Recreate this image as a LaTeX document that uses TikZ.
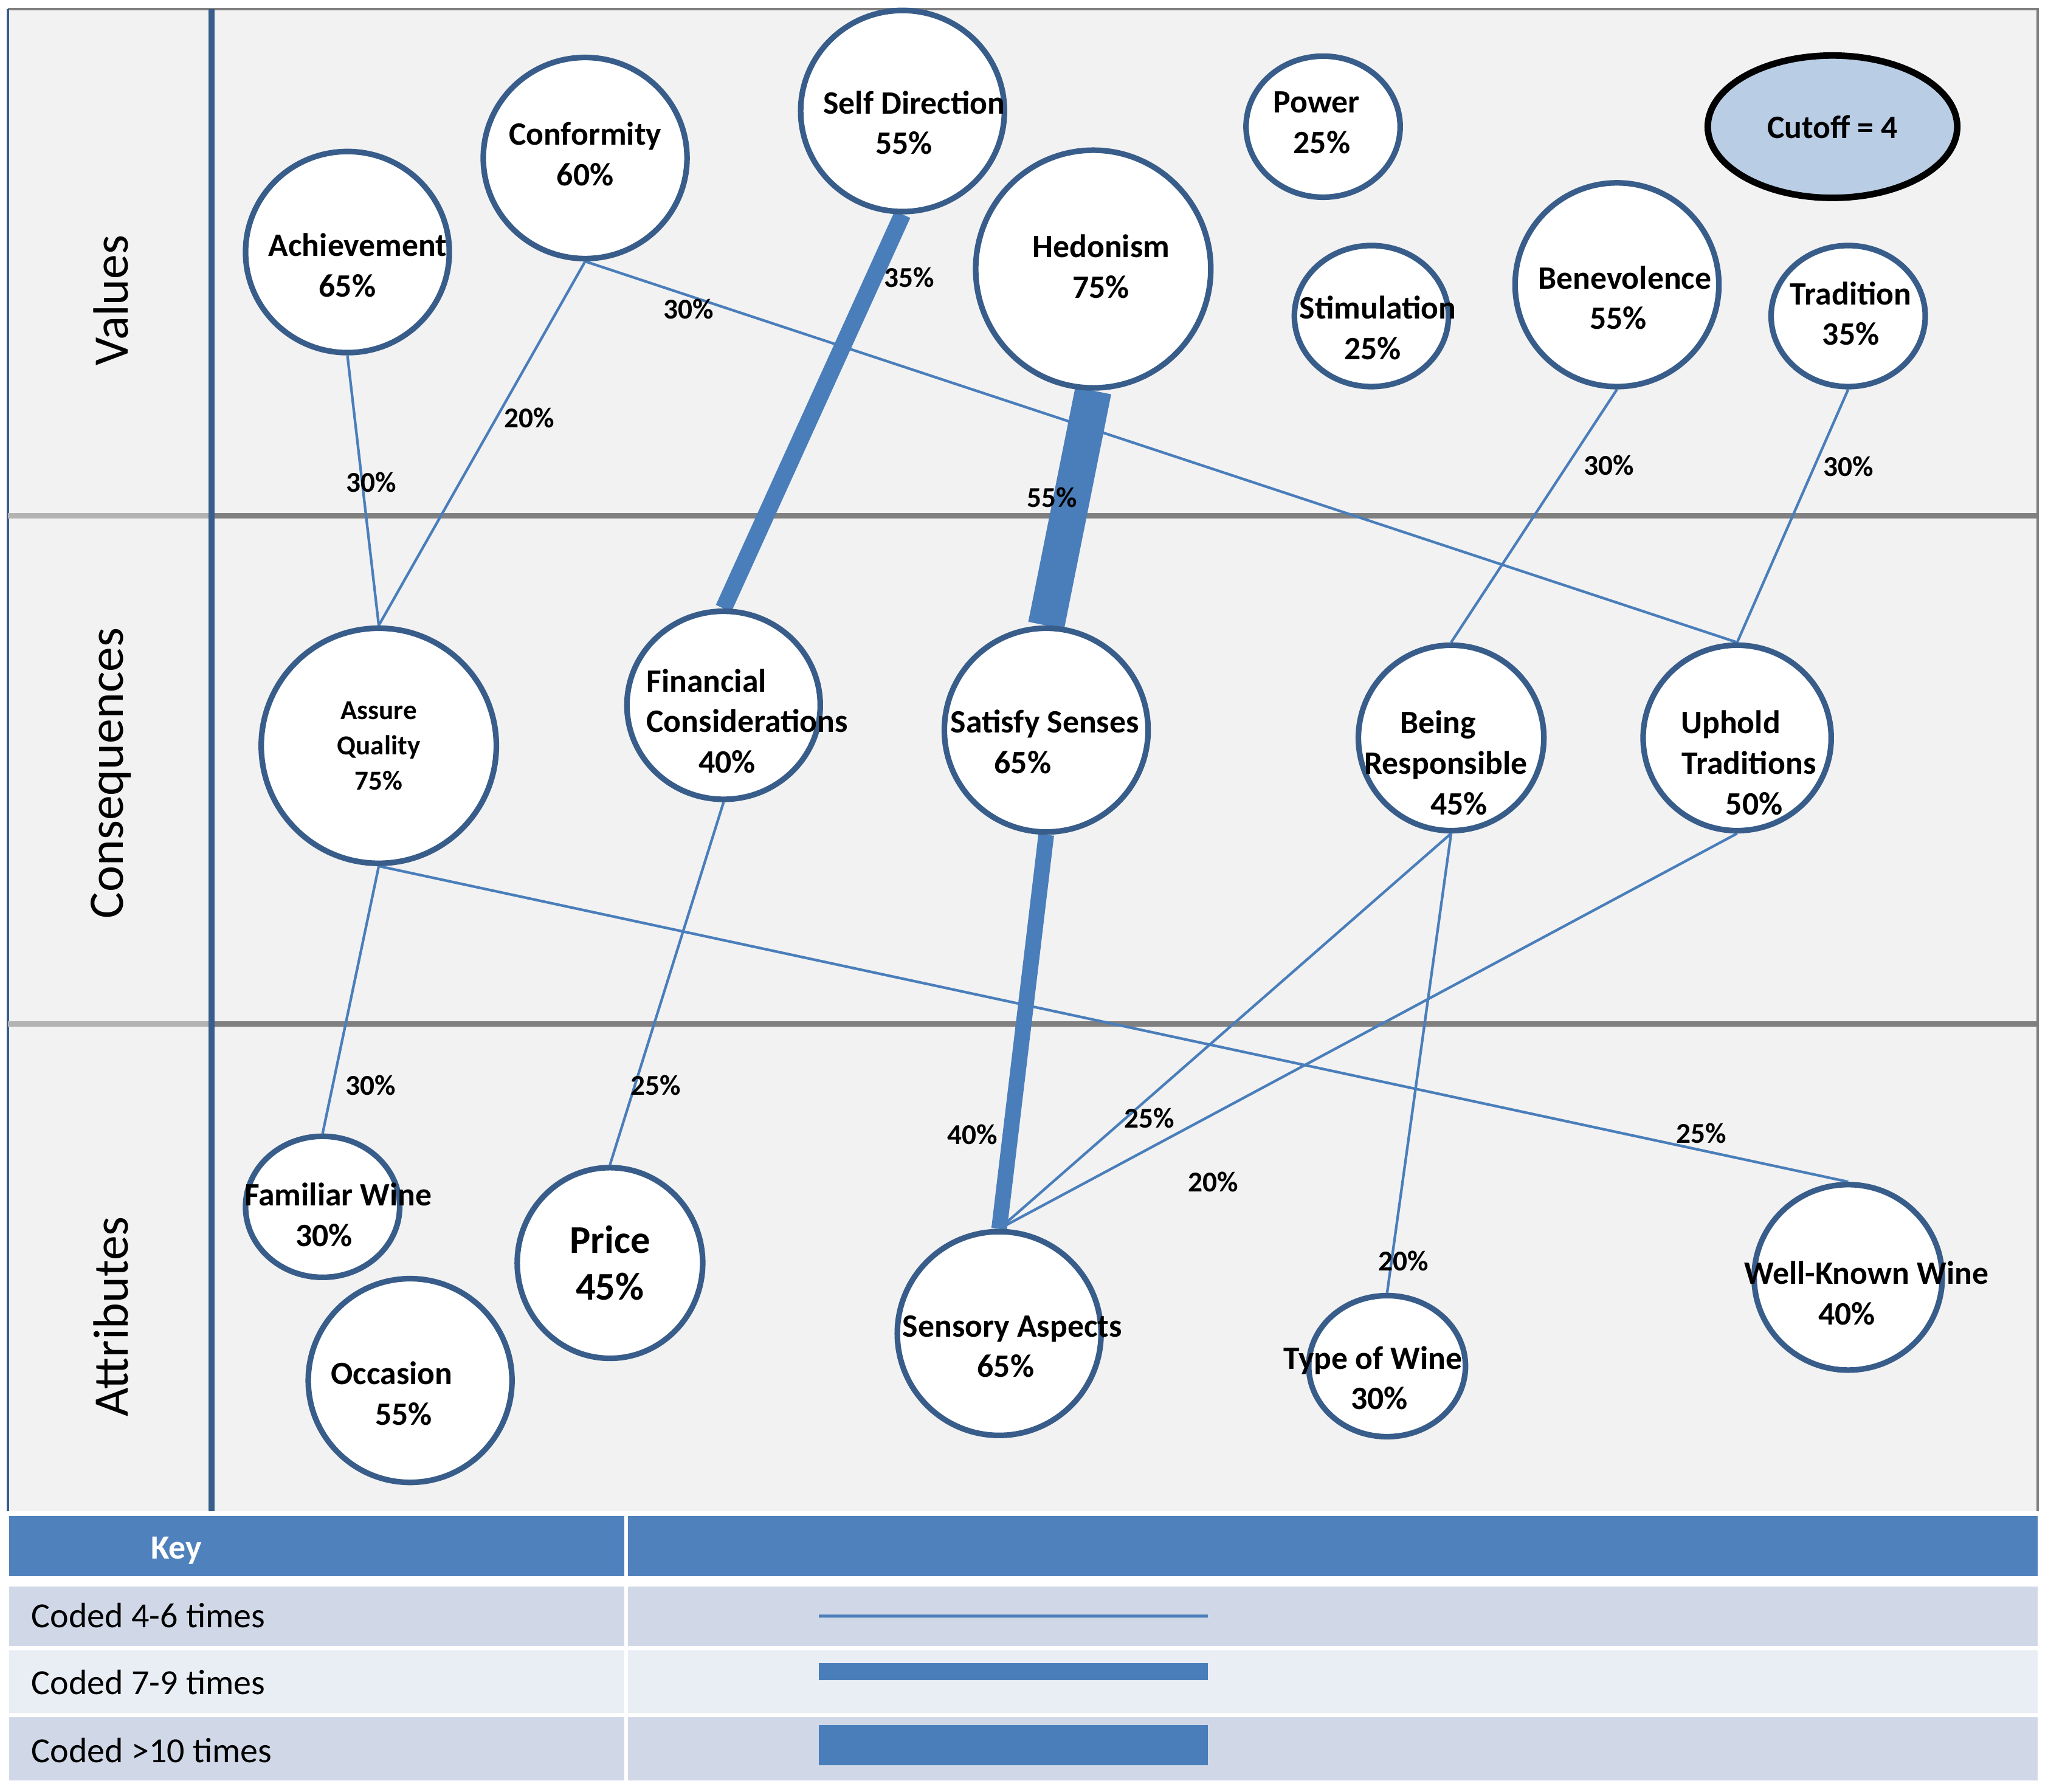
\documentclass[tikz,border=0pt]{standalone}
\usepackage{fontspec}
\setmainfont{Carlito}
\usetikzlibrary{shapes.geometric}

\definecolor{panelgray}{HTML}{F2F2F2}
\definecolor{bubline}{HTML}{385D8A}
\definecolor{linkblue}{HTML}{4A7EBB}
\definecolor{headblue}{HTML}{4F81BD}
\definecolor{rowdark}{HTML}{D0D8E8}
\definecolor{rowlight}{HTML}{E9EDF4}
\definecolor{cutfill}{HTML}{B9CDE5}
\definecolor{rulegray}{HTML}{808080}

\pgfdeclarelayer{background}
\pgfdeclarelayer{edges}
\pgfsetlayers{background,edges,main}

\tikzset{
	bub/.style={ellipse, draw=bubline, line width=4.3pt, fill=white, inner sep=0pt},
	bubtxt/.style={font=\bfseries\fontsize{25}{31}\selectfont, align=center, inner sep=0pt},
	pct/.style={font=\bfseries\fontsize{22}{26}\selectfont, inner sep=0pt},
	lowlink/.style={draw=linkblue, line width=2pt},
	midlink/.style={draw=linkblue, line width=13pt},
	toplink/.style={draw=linkblue, line width=28pt},
	axislabel/.style={rotate=90, font=\fontsize{38}{44}\selectfont},
	keytxt/.style={font=\fontsize{27}{32}\selectfont, anchor=west, inner sep=0pt},
}

\begin{document}
\begin{tikzpicture}[x=1pt, y=-1pt]
			%%%%% START %%%%%
			\useasboundingbox (0,0) rectangle (1568,1372);
			
			% panel and level rules
			\begin{pgfonlayer}{background}
				\fill[panelgray] (6,7) rectangle (1560,1157);
				\draw[rulegray, line width=2pt] (6,7) -- (1560,7) -- (1560,1157);
				\draw[bubline, line width=2pt] (6,7) -- (6,1157);
				\draw[rulegray!60, line width=4.3pt] (6,395) -- (162,395);
				\draw[rulegray, line width=4.3pt] (162,395) -- (1560,395);
				\draw[rulegray!60, line width=4.3pt] (6,784) -- (162,784);
				\draw[rulegray, line width=4.3pt] (162,784) -- (1560,784);
				\draw[bubline, line width=4.3pt] (162,7) -- (162,1157);
			\end{pgfonlayer}
			
			\node[axislabel] (lvalues) at (85,230) {Values};
			\node[axislabel] (lconseq) at (85,592) {Consequences};
			\node[axislabel] (lattrib) at (85,1008) {Attributes};
			
			% values
			\node[bub, minimum width=156pt, minimum height=154pt, label={[bubtxt, yshift=-10pt]center:{\hspace*{16pt}Achievement\\65\%}}] (achieve) at (266,193) {};
			\node[bub, minimum width=156pt, minimum height=154pt, label={[bubtxt, yshift=3pt]center:{Conformity\\60\%}}] (conform) at (448,121) {};
			\node[bub, minimum width=156pt, minimum height=154pt, label={[bubtxt, xshift=1pt, yshift=-9pt]center:{\hspace*{16pt}Self Direction\\55\%}}] (selfdir) at (691,85) {};
			\node[bub, minimum width=180pt, minimum height=182pt, label={[bubtxt, xshift=6pt, yshift=2pt]center:{Hedonism\\75\%}}] (hedon) at (837,206) {};
			\node[bub, minimum width=118pt, minimum height=108pt, label={[bubtxt, xshift=-1pt, yshift=3pt]center:{\hspace*{-8pt}Power\\25\%}}] (power) at (1013,97) {};
			\node[bub, minimum width=118pt, minimum height=108pt, label={[bubtxt, xshift=1pt, yshift=-9pt]center:{\hspace*{8pt}Stimulation\\25\%}}] (stimul) at (1050,242) {};
			\node[bub, minimum width=156pt, minimum height=156pt, label={[bubtxt, xshift=1pt, yshift=-10pt]center:{\hspace*{10pt}Benevolence\\55\%}}] (benev) at (1238,218) {};
			\node[bub, minimum width=118pt, minimum height=108pt, label={[bubtxt, xshift=2pt, yshift=2pt]center:{Tradition\\35\%}}] (tradit) at (1415,242) {};
			\node[bub, draw=black, fill=cutfill, line width=5pt, minimum width=191pt, minimum height=109pt, label={[bubtxt]center:{Cutoff = 4}}] (cutoff) at (1403,97) {};
			
			% consequences
			\node[bub, minimum width=180pt, minimum height=180pt, label={[bubtxt, font=\bfseries\fontsize{21}{27}\selectfont]center:{Assure\\Quality\\75\%}}] (assure) at (290,571) {};
			\node[bub, minimum width=148pt, minimum height=144pt, label={[bubtxt, align=left, xshift=18pt, yshift=-12pt]center:{Financial\\Considerations\\\hspace*{1.6em}40\%}}] (financ) at (554,540) {};
			\node[bub, minimum width=156pt, minimum height=156pt, label={[bubtxt, xshift=-1pt, yshift=-9pt]center:{Satisfy Senses\\\hspace*{-34pt}65\%}}] (satisfy) at (801,559) {};
			\node[bub, minimum width=142pt, minimum height=142pt, label={[bubtxt, xshift=-4pt, yshift=-19pt]center:{\hspace*{-12pt}Being\\Responsible\\\hspace*{20pt}45\%}}] (respons) at (1111,565) {};
			\node[bub, minimum width=144pt, minimum height=142pt, label={[bubtxt, xshift=9pt, yshift=-19pt]center:{\hspace*{-28pt}Uphold\\Traditions\\\hspace*{8pt}50\%}}] (uphold) at (1330,565) {};
			
			% attributes
			\node[bub, minimum width=118pt, minimum height=108pt, label={[bubtxt, xshift=1pt, yshift=-6pt]center:{\hspace*{22pt}Familiar Wine\\30\%}}] (familiar) at (247,924) {};
			\node[bub, minimum width=156pt, minimum height=156pt, label={[bubtxt, xshift=-5pt, yshift=-10pt]center:{\hspace*{-18pt}Occasion\\55\%}}] (occasion) at (314,1057) {};
			\node[bub, minimum width=142pt, minimum height=146pt, label={[bubtxt, font=\bfseries\fontsize{30}{36}\selectfont]center:{Price\\45\%}}] (price) at (467,967) {};
			\node[bub, minimum width=156pt, minimum height=156pt, label={[bubtxt, xshift=5pt, yshift=-10pt]center:{\hspace*{10pt}Sensory Aspects\\65\%}}] (sensory) at (765,1021) {};
			\node[bub, minimum width=120pt, minimum height=108pt, label={[bubtxt, xshift=-6pt, yshift=-9pt]center:{\hspace*{-10pt}Type of Wine\\30\%}}] (typewine) at (1062,1046) {};
			\node[bub, minimum width=144pt, minimum height=142pt, label={[bubtxt, xshift=-1pt, yshift=-12pt]center:{\hspace*{30pt}Well-Known Wine\\40\%}}] (wellknown) at (1415,978) {};
			
			% links
			\begin{pgfonlayer}{edges}
				\draw[lowlink] (achieve.south) -- (assure.north) node[pct, pos=.47, xshift=7pt] {30\%};
				\draw[lowlink] (conform.south) -- (assure.north) node[pct, pos=.43, xshift=25pt] {20\%};
				\draw[lowlink] (conform.south) -- (uphold.north) node[pct, pos=.09, yshift=-10pt] {30\%};
				\draw[midlink] (selfdir.south) -- (financ.north) node[pct, pos=.16, xshift=27pt] {35\%};
				\draw[toplink] (hedon.south) -- (satisfy.north) node[pct, pos=.455, xshift=-15pt] {55\%};
				\draw[lowlink] (benev.south) -- (respons.north) node[pct, pos=.3, xshift=32pt] {30\%};
				\draw[lowlink] (tradit.south) -- (uphold.north) node[pct, pos=.304, xshift=26pt] {30\%};
				
				\draw[lowlink] (assure.south) -- (familiar.north) node[pct, pos=.82, xshift=29pt] {30\%};
				\draw[lowlink] (assure.south) -- (wellknown.north) node[pct, pos=.9, yshift=13pt] {25\%};
				\draw[lowlink] (financ.south) -- (price.north) node[pct, pos=.78, xshift=16pt] {25\%};
				\draw[midlink, line width=12pt] (satisfy.south) -- (sensory.north) node[pct, pos=.76, xshift=-29pt] {40\%};
				\draw[lowlink] (respons.south) -- (sensory.north) node[pct, pos=.72, xshift=18pt] {25\%};
				\draw[lowlink] (uphold.south) -- (sensory.north) node[pct, pos=.71, yshift=-52pt] {20\%};
				\draw[lowlink] (respons.south) -- (typewine.north) node[pct, pos=.93, xshift=9pt] {20\%};
			\end{pgfonlayer}
			
			% key
			\fill[headblue] (7,1160.8) rectangle (1560,1206.7);
			\fill[rowdark] (7,1214.7) rectangle (1560,1260.2);
			\fill[rowlight] (7,1263.6) rectangle (1560,1311.4);
			\fill[rowdark] (7,1314.8) rectangle (1560,1363.2);
			\draw[white, line width=3pt] (479.5,1160) -- (479.5,1364);
			
			\node[font=\bfseries\fontsize{26}{31}\selectfont, text=white, inner sep=0pt] (keyhead) at (135,1187) {Key};
			\node[keytxt] (key4) at (24,1237) {Coded 4-6 times};
			\node[keytxt] (key7) at (24,1288) {Coded 7-9 times};
			\node[keytxt] (key10) at (24,1340) {Coded >10 times};
			
			\fill[linkblue] (627,1236.2) rectangle (925,1238.3);
			\fill[linkblue] (627,1273.4) rectangle (925,1286.4);
			\fill[linkblue] (627,1320.9) rectangle (925,1351.6);
			%%%%% END %%%%%
\end{tikzpicture}
\end{document}
